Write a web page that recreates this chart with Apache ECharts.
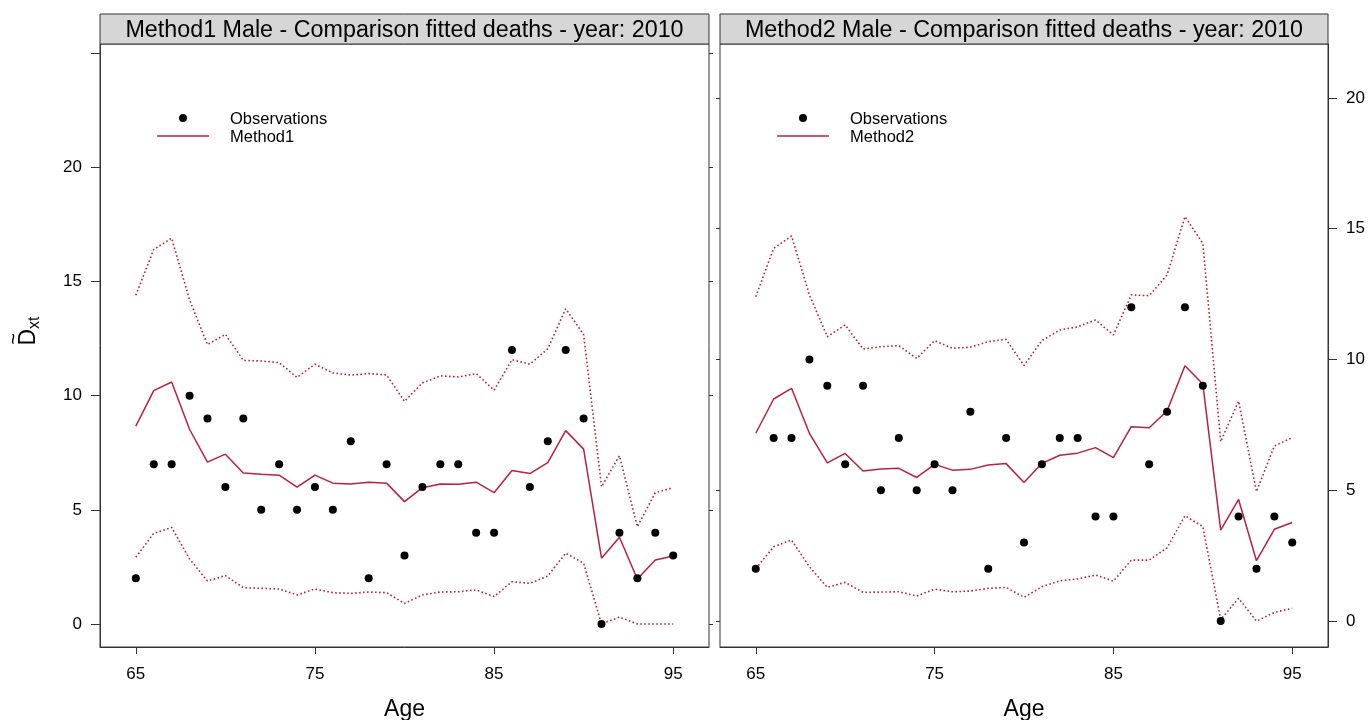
<!DOCTYPE html>
<html>
<head>
<meta charset="utf-8">
<script src="https://cdn.jsdelivr.net/npm/echarts@6/dist/echarts.min.js"></script>
<style>html,body{margin:0;padding:0;background:#fff;}#chart{width:1368px;height:720px;}</style>
</head>
<body>
<div id="chart"></div>
<script>
const ages = [65,66,67,68,69,70,71,72,73,74,75,76,77,78,79,80,81,82,83,84,85,86,87,88,89,90,91,92,93,94,95];
const observations = [2,7,7,10,9,6,9,5,7,5,6,5,8,2,7,3,6,7,7,4,4,12,6,8,12,9,0,4,2,4,3];
const method1Fit = [8.67,10.22,10.6,8.53,7.09,7.44,6.61,6.56,6.52,6.0,6.52,6.17,6.13,6.21,6.17,5.36,5.97,6.13,6.12,6.21,5.75,6.72,6.59,7.07,8.47,7.66,2.88,3.8,1.97,2.8,2.98];
const method1Lower = [2.92,3.97,4.23,2.85,1.88,2.12,1.59,1.56,1.53,1.27,1.53,1.37,1.34,1.40,1.37,0.90,1.27,1.40,1.41,1.49,1.20,1.85,1.78,2.10,3.10,2.66,0.0,0.30,0.0,0.0,0.0];
const method1Upper = [14.4,16.41,16.9,14.2,12.24,12.69,11.55,11.52,11.45,10.8,11.38,11.0,10.9,10.97,10.91,9.75,10.56,10.87,10.82,10.97,10.24,11.58,11.38,12.06,13.81,12.68,6.01,7.37,4.26,5.75,5.97];
const method2Fit = [7.18,8.49,8.90,7.18,6.05,6.41,5.74,5.81,5.84,5.49,5.99,5.77,5.80,5.97,6.02,5.30,6.03,6.34,6.42,6.63,6.25,7.43,7.39,8.03,9.76,9.06,3.48,4.65,2.31,3.51,3.77];
const method2Lower = [2.01,2.84,3.10,2.08,1.29,1.48,1.10,1.11,1.12,0.96,1.22,1.12,1.15,1.25,1.29,0.91,1.31,1.54,1.61,1.76,1.53,2.33,2.33,2.80,4.03,3.61,0.06,0.87,0.0,0.33,0.49];
const method2Upper = [12.40,14.25,14.72,12.47,10.87,11.32,10.40,10.49,10.53,10.04,10.72,10.43,10.47,10.68,10.77,9.77,10.72,11.13,11.25,11.51,10.94,12.47,12.44,13.23,15.46,14.44,6.86,8.41,4.95,6.69,7.02];
const xTicks = [65,75,85,95];
const yTicksLeft = [0,5,10,15,20,25];
const yLabelsLeft = [0,5,10,15,20];
const yTicksRight = [0,5,10,15,20];
const panelTitles = ['Method1 Male - Comparison fitted deaths - year: 2010','Method2 Male - Comparison fitted deaths - year: 2010'];
const methodNames = ['Method1','Method2'];

const FONT = "'Liberation Sans', Arial, 'DejaVu Sans', sans-serif";
const LINE = '#b8213f';
const AXIS = '#333333';
const pairs = vals => ages.map((a,i)=>[a, vals[i]]);

const chart = echarts.init(document.getElementById('chart'), null, {renderer:'canvas'});

const grids = [
  {left:100, top:44, width:609, height:603},
  {left:720, top:44, width:608, height:603}
];

function xAxis(gi){
  return {type:'value', gridIndex:gi, min:63, max:97, position:'bottom',
    axisLine:{show:true, onZero:false, lineStyle:{color:AXIS,width:1}},
    axisTick:{show:true, customValues:xTicks, length:7, lineStyle:{color:AXIS}},
    axisLabel:{customValues:xTicks, fontSize:17, color:'#000', margin:19, fontFamily:FONT},
    splitLine:{show:false},
    name:'Age', nameLocation:'middle', nameGap:51,
    nameTextStyle:{fontSize:23, color:'#000', fontFamily:FONT}};
}
function yMain(gi, pos, min, max, ticks, labels){
  return {type:'value', gridIndex:gi, position:pos, min:min, max:max,
    axisLine:{show:true, onZero:false, lineStyle:{color:AXIS,width:1}},
    axisTick:{show:true, customValues:ticks, length:9, lineStyle:{color:AXIS}},
    axisLabel:{customValues:labels, fontSize:17, color:'#000', margin:18, fontFamily:FONT},
    splitLine:{show:false}};
}
function ySec(gi, pos, min, max, ticks){
  return {type:'value', gridIndex:gi, position:pos, min:min, max:max,
    axisLine:{show:false, onZero:false},
    axisTick:{show:true, customValues:ticks, length:4, lineStyle:{color:AXIS}},
    axisLabel:{show:false}, splitLine:{show:false}};
}

function panelSeries(gi, yi, fit, lower, upper, name){
  return [
    {type:'line', name:name+' upper', xAxisIndex:gi, yAxisIndex:yi, data:pairs(upper), symbol:'none',
      lineStyle:{color:LINE, width:1.6, type:[1.6,2.4]}, z:2},
    {type:'line', name:name+' lower', xAxisIndex:gi, yAxisIndex:yi, data:pairs(lower), symbol:'none',
      lineStyle:{color:LINE, width:1.6, type:[1.6,2.4]}, z:2},
    {type:'line', name:name, xAxisIndex:gi, yAxisIndex:yi, data:pairs(fit), symbol:'none',
      lineStyle:{color:LINE, width:1.5}, z:3},
    {type:'scatter', name:'Observations', xAxisIndex:gi, yAxisIndex:yi, data:pairs(observations),
      symbol:'circle', symbolSize:8, itemStyle:{color:'#000', opacity:1}, z:4}
  ];
}

const graphics = [];
grids.forEach((g,i)=>{
  graphics.push({type:'rect', shape:{x:g.left, y:14, width:g.width, height:30},
    style:{fill:'#d6d6d6', stroke:AXIS, lineWidth:1}, z:10});
  graphics.push({type:'text', x:g.left+g.width/2, y:31,
    style:{text:panelTitles[i], fontSize:23.3, fontFamily:FONT, fill:'#000', align:'center', verticalAlign:'middle'}, z:11});
  const dotX = g.left+83, lineX0 = g.left+57, lineX1 = g.left+109, txtX = g.left+130;
  graphics.push({type:'circle', shape:{cx:dotX, cy:118, r:4}, style:{fill:'#000'}, z:11});
  graphics.push({type:'line', shape:{x1:lineX0, y1:136, x2:lineX1, y2:136}, style:{stroke:LINE, lineWidth:1.5}, z:11});
  graphics.push({type:'text', x:txtX, y:119, style:{text:'Observations', fontSize:16.5, fontFamily:FONT, fill:'#000', align:'left', verticalAlign:'middle'}, z:11});
  graphics.push({type:'text', x:txtX, y:137, style:{text:methodNames[i], fontSize:16.5, fontFamily:FONT, fill:'#000', align:'left', verticalAlign:'middle'}, z:11});
});
graphics.push({type:'text', x:29, y:331, rotation:Math.PI/2,
  style:{text:'{d|D}{s|xt}', align:'center', verticalAlign:'middle',
    rich:{d:{fontSize:23, fontFamily:FONT, fill:'#000', lineHeight:30},
          s:{fontSize:16, fontFamily:FONT, fill:'#000', padding:[12,0,0,0], lineHeight:30}}}, z:11});
graphics.push({type:'text', x:14, y:339, rotation:Math.PI/2,
  style:{text:'~', align:'center', verticalAlign:'middle', fontSize:20, fontFamily:FONT, fill:'#000'}, z:11});

chart.setOption({
  animation:false,
  backgroundColor:'#fff',
  grid: grids.map(g=>Object.assign({show:true, borderColor:AXIS, borderWidth:1, containLabel:false, outerBoundsMode:'none'}, g)),
  xAxis:[xAxis(0), xAxis(1)],
  yAxis:[
    yMain(0,'left',-1.01,25.41,yTicksLeft,yLabelsLeft),
    ySec(0,'right',-1.01,25.41,yTicksLeft),
    yMain(1,'right',-0.99,22.06,yTicksRight,yTicksRight),
    ySec(1,'left',-0.99,22.06,yTicksRight)
  ],
  series:[].concat(
    panelSeries(0,0,method1Fit,method1Lower,method1Upper,'Method1'),
    panelSeries(1,2,method2Fit,method2Lower,method2Upper,'Method2')
  ),
  graphic: graphics
});
</script>
</body>
</html>
